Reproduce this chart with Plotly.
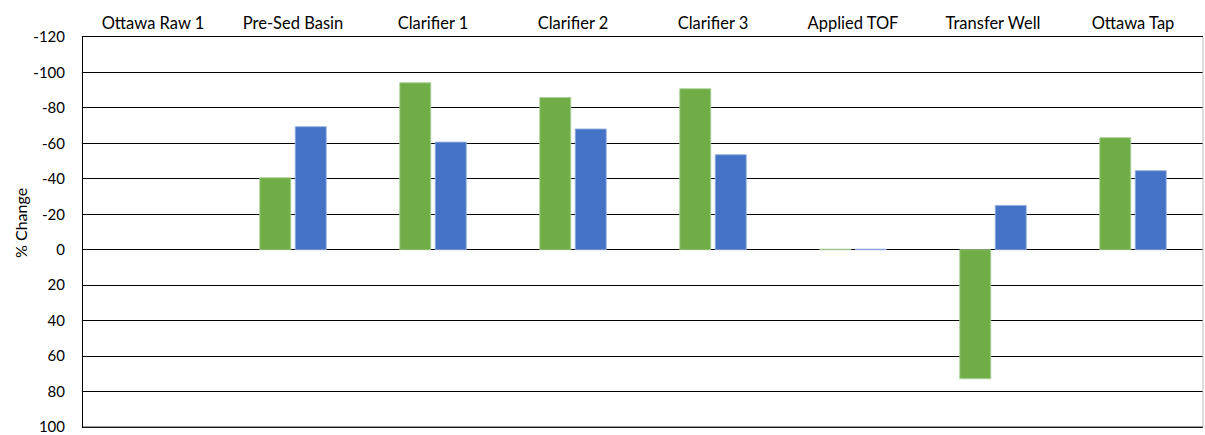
import plotly.graph_objects as go

# Sampling locations along the treatment train
locations = ["Ottawa Raw 1", "Pre-Sed Basin", "Clarifier 1", "Clarifier 2",
             "Clarifier 3", "Applied TOF", "Transfer Well", "Ottawa Tap"]

# Percent change for the two measured series (raw water is the baseline)
series_green = [None, -40.6, -94.2, -85.9, -90.8, -0.3, 72.8, -63.2]
series_blue = [None, -69.4, -60.7, -68.1, -53.6, -0.3, -25.0, -44.6]

# Value axis ticks (reversed axis, hyphen minus as printed)
tick_values = [-120, -100, -80, -60, -40, -20, 0, 20, 40, 60, 80, 100]
tick_labels = ["-120", "-100", "-80", "-60", "-40", "-20", "0", "20", "40", "60", "80", "100"]

GREEN = "#70AD47"
BLUE = "#4472C4"
FONT = "Lato"

fig = go.Figure()
fig.add_trace(go.Bar(
    x=locations, y=series_green, name="Series 1",
    marker=dict(color=GREEN, line=dict(color="rgba(170,210,150,0.9)", width=1)),
))
fig.add_trace(go.Bar(
    x=locations, y=series_blue, name="Series 2",
    marker=dict(color=BLUE, line=dict(color="rgba(150,175,225,0.9)", width=1)),
))

fig.update_layout(
    width=1205, height=435,
    margin=dict(l=83, r=2, t=37, b=8),
    paper_bgcolor="white", plot_bgcolor="white",
    barmode="group", bargap=0.493, bargroupgap=0.127,
    showlegend=False,
    font=dict(family=FONT, size=15, color="#000000"),
)

fig.update_xaxes(
    side="top", showgrid=False, ticks="", showline=True, mirror=True,
    linecolor="#000000", linewidth=1, automargin=False,
    tickfont=dict(family=FONT, size=16.5, color="#000000"),
)

fig.update_yaxes(
    range=[100, -120], tickmode="array", tickvals=tick_values, ticktext=tick_labels,
    showgrid=True, gridcolor="#000000", gridwidth=1,
    zeroline=True, zerolinecolor="#000000", zerolinewidth=1,
    showline=True, linecolor="#000000", linewidth=1, ticks="",
    ticklabelstandoff=14, automargin=False, ticklabeloverflow="allow",
    tickfont=dict(family=FONT, size=15, color="#000000"),
)

# Axis title placed beside the value ticks
fig.add_annotation(text="% Change", textangle=-90, showarrow=False,
                   xref="paper", yref="paper", x=-0.0563, y=0.523,
                   xanchor="center", yanchor="middle",
                   font=dict(family=FONT, size=16, color="#000000"))

# Bottom edge and light right-hand border of the plot area
fig.add_shape(type="line", xref="paper", yref="paper", x0=0, x1=1, y0=0, y1=0,
              line=dict(color="#333333", width=1))
fig.add_shape(type="line", xref="paper", yref="paper", x0=1, x1=1, y0=0, y1=1,
              line=dict(color="#BFBFBF", width=1))

fig.write_html("out.html")
